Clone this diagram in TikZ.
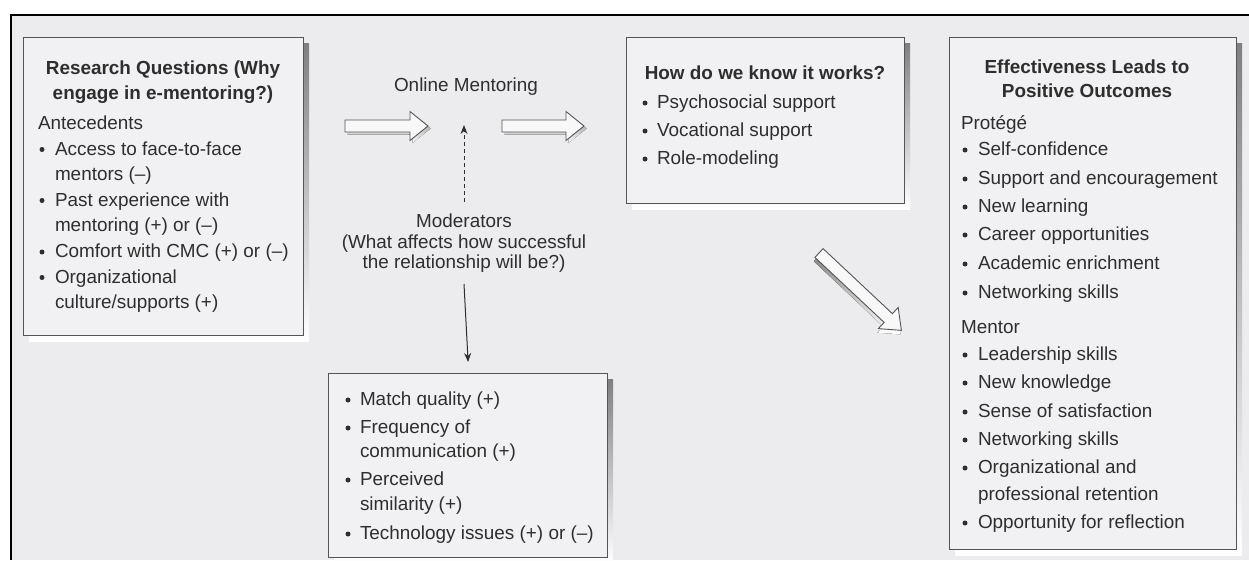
\documentclass[tikz,border=0pt]{standalone}
\usepackage{fontspec}
\setmainfont{Liberation Sans}
\usetikzlibrary{arrows.meta}
\definecolor{bg}{HTML}{ECECEF}
\definecolor{boxbg}{HTML}{F1F1F3}
\definecolor{ink}{HTML}{2E2E2E}
\definecolor{edge}{HTML}{555555}
\definecolor{shade}{HTML}{606060}
\definecolor{arrowfill}{HTML}{F8F8F8}
\tikzset{
  txt/.style={inner sep=0pt, outer sep=0pt, text=ink, font=\fontsize{18.9}{22}\selectfont, anchor=base west},
  ttl/.style={txt, font=\fontsize{18.9}{22}\selectfont\bfseries, anchor=base},
  ctr/.style={txt, anchor=base},
  dot/.style={circle, fill=ink, inner sep=0pt, minimum size=5pt},
  panel/.style={draw=edge, line width=1.2pt, fill=boxbg, inner sep=0pt, anchor=north west},
  conn/.style={draw=ink, line width=1pt, -{Stealth[length=9pt,width=7pt]}},
}
\newcommand\bitem[5]{%
  \node[dot] (#1b) at (#2,#4-5.5) {};
  \node[txt] (#1) at (#3,#4) {#5};}
\newcommand\hollow[5]{% tail, length, angle, shadow dx, shadow dy
  \begin{scope}[shift={(#1)}, shift={(#4,#5)}, rotate=#3]
    \fill[shade] (0,-6) -- ({#2-18},-6) -- ({#2-18},-14.5) -- (#2,0) -- ({#2-18},14.5) -- ({#2-18},6) -- (0,6) -- cycle;
  \end{scope}
  \begin{scope}[shift={(#1)}, rotate=#3]
    \filldraw[fill=arrowfill, draw=edge, line width=0.9pt, line join=miter] (0,-6) -- ({#2-18},-6) -- ({#2-18},-14.5) -- (#2,0) -- ({#2-18},14.5) -- ({#2-18},6) -- (0,6) -- cycle;
  \end{scope}}
\begin{document}
\begin{tikzpicture}[x=1pt,y=-1pt]
\useasboundingbox (0,0) rectangle (1249,560);
\fill[bg] (11,15) rectangle (1249,560);
\draw[line width=2.5pt, black] (1249,15) -- (11,15) -- (11,560);

% panels with shadows
\fill[shade] (29,43) rectangle (309,341);
\node[panel, minimum width=280pt, minimum height=298pt] (rq) at (23,37) {};
\fill[shade] (632,43) rectangle (910,209);
\node[panel, minimum width=278pt, minimum height=166pt] (hw) at (626,37) {};
\fill[shade] (334,379) rectangle (613,563);
\node[panel, minimum width=279pt, minimum height=184pt] (bot) at (328,373) {};
\fill[shade] (955,43) rectangle (1242,555);
\node[panel, minimum width=287pt, minimum height=512pt] (eff) at (949,37) {};

% left panel text
\node[ttl] (rqt1) at (163,74) {Research Questions (Why};
\node[ttl] (rqt2) at (163,99) {engage in e-mentoring?)};
\node[txt] (ante) at (38,129.5) {Antecedents};
\bitem{l1}{42}{55}{155}{Access to face-to-face}
\node[txt] (l1c) at (55,180.5) {mentors (–)};
\bitem{l2}{42}{55}{206}{Past experience with}
\node[txt] (l2c) at (55,231.5) {mentoring (+) or (–)};
\bitem{l3}{42}{55}{257.5}{Comfort with CMC (+) or (–)}
\bitem{l4}{42}{55}{283}{Organizational}
\node[txt] (l4c) at (55,308.5) {culture/supports (+)};

% top-middle panel text
\node[ttl] (hwt) at (765,79.5) {How do we know it works?};
\bitem{h1}{645}{657}{108.5}{Psychosocial support}
\bitem{h2}{645}{657}{136.5}{Vocational support}
\bitem{h3}{645}{657}{164.5}{Role-modeling}

% bottom panel text
\bitem{b1}{348}{360}{405.5}{Match quality (+)}
\bitem{b2}{348}{360}{433.5}{Frequency of}
\node[txt] (b2c) at (360,457.5) {communication (+)};
\bitem{b3}{348}{360}{485.5}{Perceived}
\node[txt] (b3c) at (360,510.5) {similarity (+)};
\bitem{b4}{348}{360}{539.5}{Technology issues (+) or (–)}

% right panel text
\node[ttl] (efft1) at (1087,73.5) {Effectiveness Leads to};
\node[ttl] (efft2) at (1087,97) {Positive Outcomes};
\node[txt] (prot) at (961,129.5) {Protégé};
\bitem{r1}{965}{978}{155.5}{Self-confidence}
\bitem{r2}{965}{978}{184.5}{Support and encouragement}
\bitem{r3}{965}{978}{212.5}{New learning}
\bitem{r4}{965}{978}{240.5}{Career opportunities}
\bitem{r5}{965}{978}{269.5}{Academic enrichment}
\bitem{r6}{965}{978}{298.5}{Networking skills}
\node[txt] (ment) at (961,333.5) {Mentor};
\bitem{m1}{965}{978}{360.5}{Leadership skills}
\bitem{m2}{965}{978}{388.5}{New knowledge}
\bitem{m3}{965}{978}{417.5}{Sense of satisfaction}
\bitem{m4}{965}{978}{445.5}{Networking skills}
\bitem{m5}{965}{978}{473.5}{Organizational and}
\node[txt] (m5c) at (978,500.5) {professional retention};
\bitem{m6}{965}{978}{528.5}{Opportunity for reflection}

% middle labels
\node[ctr] (onl) at (466,91) {Online Mentoring};
\node[ctr] (mod1) at (464,227) {Moderators};
\node[ctr] (mod2) at (464,248) {(What affects how successful};
\node[ctr] (mod3) at (464,268) {the relationship will be?)};

% block arrows
\coordinate (a1t) at (345,126);
\coordinate (a2t) at (502,126);
\coordinate (a3t) at (819,253);
\hollow{a1t}{83}{0}{2.5}{2.5}
\hollow{a2t}{82}{0}{2.5}{2.5}
\hollow{a3t}{113}{-43.2}{-1}{4}

% moderator arrows
\coordinate (om) at (464,125);
\draw[conn, dash pattern=on 4pt off 3pt] ([yshift=11pt]mod1.north) -- (om);
\draw[conn] ([yshift=-12pt]mod3.south) -- ([yshift=11pt]bot.north);
\end{tikzpicture}
\end{document}
